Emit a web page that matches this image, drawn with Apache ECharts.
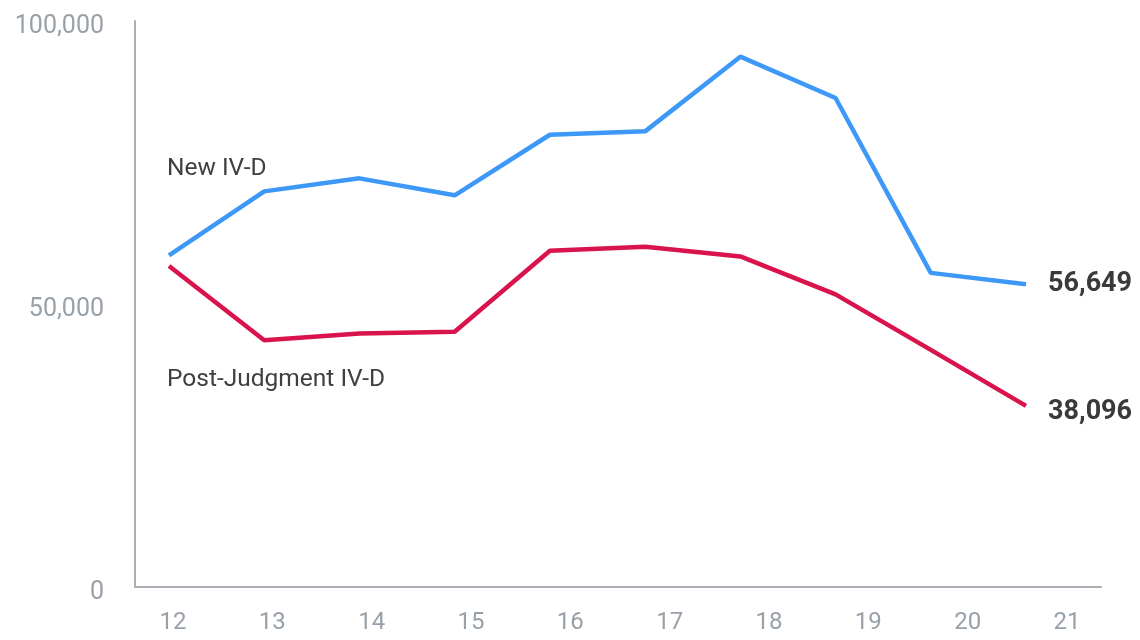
<!DOCTYPE html>
<html>
<head>
<meta charset="utf-8">
<script src="https://cdn.jsdelivr.net/npm/echarts@6/dist/echarts.min.js"></script>
<style>
  html, body { margin: 0; padding: 0; background: #ffffff; }
  #chart { width: 1140px; height: 640px; }
</style>
</head>
<body>
<div id="chart"></div>
<script>
// years (fiscal, two digits)
const years = ['12', '13', '14', '15', '16', '17', '18', '19', '20', '21']
// new IV-D cases
const newIVD = [58600, 69900, 72200, 69200, 79900, 80500, 93700, 86400, 55500, 53500]
// post-judgment IV-D cases
const postJudgment = [56700, 43600, 44800, 45100, 59400, 60100, 58400, 51700, 41900, 32000]
// labels printed at the end of each line
const endLabels = ['56,649', '38,096']
const seriesNames = ['New IV-D', 'Post-Judgment IV-D']

const axisGray = '#a9afb5'
const labelGray = '#98a1a9'
const font = 'Roboto, "Noto Sans", sans-serif'

const chart = echarts.init(document.getElementById('chart'))
chart.setOption({
  animation: false,
  grid: [
    // axes frame
    { left: 135, right: 39, top: 21, bottom: 53 },
    // lines
    { left: 169, right: 114, top: 21, bottom: 53 },
    // x tick labels
    { left: 173, right: 73, top: 21, bottom: 53 }
  ],
  xAxis: [
    {
      gridIndex: 0,
      type: 'category',
      data: years,
      axisLine: { lineStyle: { color: axisGray, width: 2 } },
      axisTick: { show: false },
      axisLabel: { show: false }
    },
    {
      gridIndex: 1,
      type: 'category',
      boundaryGap: false,
      data: years,
      show: false
    },
    {
      gridIndex: 2,
      type: 'category',
      boundaryGap: false,
      data: years,
      axisLine: { show: false },
      axisTick: { show: false },
      axisLabel: { color: labelGray, fontSize: 24, fontFamily: font, margin: 24 }
    }
  ],
  yAxis: [
    {
      gridIndex: 0,
      type: 'value',
      min: 0,
      max: 100000,
      interval: 50000,
      splitLine: { show: false },
      axisLine: { show: true, lineStyle: { color: axisGray, width: 2 } },
      axisTick: { show: false },
      axisLabel: {
        color: labelGray,
        fontSize: 25,
        fontFamily: font,
        margin: 31,
        verticalAlign: 'top',
        lineHeight: 12,
        formatter: v => v.toLocaleString('en-US')
      }
    },
    { gridIndex: 1, type: 'value', min: 0, max: 100000, show: false },
    { gridIndex: 2, type: 'value', min: 0, max: 100000, show: false }
  ],
  graphic: [
    {
      type: 'text',
      left: 167,
      top: 156,
      style: { text: seriesNames[0], fill: '#404040', font: '24.5px ' + font }
    },
    {
      type: 'text',
      left: 167,
      top: 367,
      style: { text: seriesNames[1], fill: '#404040', font: '24.5px ' + font }
    }
  ],
  series: [
    {
      name: seriesNames[0],
      type: 'line',
      xAxisIndex: 1,
      yAxisIndex: 1,
      data: newIVD,
      symbol: 'none',
      lineStyle: { color: '#3d98f7', width: 4.5 },
      endLabel: {
        show: true,
        formatter: () => endLabels[0],
        color: '#3a3a3a',
        fontSize: 27,
        fontWeight: 'bold',
        fontFamily: font,
        distance: 22
      }
    },
    {
      name: seriesNames[1],
      type: 'line',
      xAxisIndex: 1,
      yAxisIndex: 1,
      data: postJudgment,
      symbol: 'none',
      lineStyle: { color: '#d9134b', width: 4.5 },
      endLabel: {
        show: true,
        formatter: () => endLabels[1],
        color: '#3a3a3a',
        fontSize: 27,
        fontWeight: 'bold',
        fontFamily: font,
        distance: 22,
        offset: [0, 6]
      }
    }
  ]
})
</script>
</body>
</html>
